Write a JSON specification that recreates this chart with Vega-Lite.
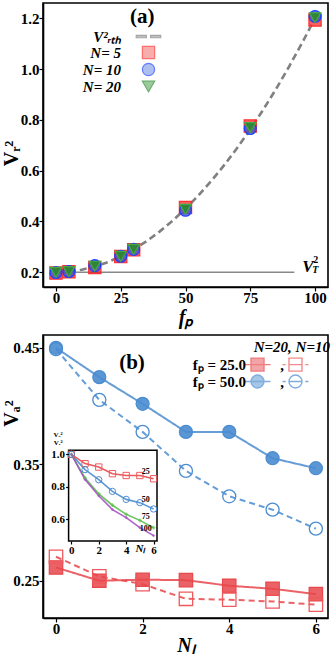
{
  "$schema": "https://vega.github.io/schema/vega-lite/v6.json",
  "padding": {"left": 0, "right": 3, "top": 2, "bottom": 2},
  "spacing": 6,
  "config": {
    "view": {"stroke": "black", "strokeWidth": 1.6},
    "axis": {"domainColor": "black", "domainWidth": 1.6, "tickColor": "black", "tickWidth": 1.2, "tickSize": 4, "grid": false, "labelFont": "Liberation Serif", "labelFontWeight": "bold", "labelFontSize": 15, "labelColor": "black", "labelPadding": 0, "labelOverlap": false, "titleFont": "Liberation Serif", "titleFontStyle": "italic", "titleFontWeight": "bold", "titleFontSize": 20, "titleColor": "black"},
    "text": {"font": "Liberation Serif", "fontWeight": "bold", "color": "black"}
  },
  "resolve": {"scale": {"shape": "independent", "fill": "independent", "stroke": "independent", "color": "independent", "x": "independent", "y": "independent"}, "legend": {"shape": "independent", "fill": "independent", "stroke": "independent"}},
  "vconcat": [
    {
      "width": 285,
      "height": 284,
      "layer": [
        {
          "encoding": {
            "x": {"field": "f", "type": "quantitative", "scale": {"domain": [-5, 105], "nice": false, "zero": false}, "axis": {"values": [0, 25, 50, 75, 100], "title": "fₚ", "labelPadding": -1, "titlePadding": 2}},
            "y": {"field": "v", "type": "quantitative", "scale": {"domain": [0.142, 1.26], "nice": false, "zero": false}, "axis": {"values": [0.2, 0.4, 0.6, 0.8, 1.0, 1.2], "format": ".1f", "title": "Vᵣ²", "titleFontStyle": "normal", "titleX": -22, "titleY": 150, "titleAlign": "center"}}
          },
          "layer": [
            {"data": {"values": [{"f": 0, "v": 0.2}, {"f": 92, "v": 0.2}]}, "mark": {"type": "line", "color": "#888888", "strokeWidth": 1.5}},
            {"data": {"values": [{"f": 5, "v": 0.2025}, {"f": 10, "v": 0.21}, {"f": 15, "v": 0.2225}, {"f": 20, "v": 0.24}, {"f": 25, "v": 0.2625}, {"f": 30, "v": 0.29}, {"f": 35, "v": 0.3225}, {"f": 40, "v": 0.36}, {"f": 45, "v": 0.4025}, {"f": 50, "v": 0.45}, {"f": 55, "v": 0.5025}, {"f": 60, "v": 0.56}, {"f": 65, "v": 0.6225}, {"f": 70, "v": 0.69}, {"f": 75, "v": 0.7625}, {"f": 80, "v": 0.84}, {"f": 85, "v": 0.9225}, {"f": 90, "v": 1.01}, {"f": 95, "v": 1.1025}, {"f": 100, "v": 1.2}]}, "mark": {"type": "line", "color": "#808080", "strokeWidth": 2.6, "strokeDash": [7, 4]}},
            {"data": {"name": "pa", "values": [
              {"f": 0, "N": 5, "v": 0.197}, {"f": 0, "N": 10, "v": 0.199}, {"f": 0, "N": 20, "v": 0.2},
              {"f": 5, "N": 5, "v": 0.202}, {"f": 5, "N": 10, "v": 0.203}, {"f": 5, "N": 20, "v": 0.203},
              {"f": 15, "N": 5, "v": 0.219}, {"f": 15, "N": 10, "v": 0.226}, {"f": 15, "N": 20, "v": 0.224},
              {"f": 25, "N": 5, "v": 0.262}, {"f": 25, "N": 10, "v": 0.263}, {"f": 25, "N": 20, "v": 0.263},
              {"f": 30, "N": 5, "v": 0.289}, {"f": 30, "N": 10, "v": 0.29}, {"f": 30, "N": 20, "v": 0.29},
              {"f": 50, "N": 5, "v": 0.455}, {"f": 50, "N": 10, "v": 0.444}, {"f": 50, "N": 20, "v": 0.448},
              {"f": 75, "N": 5, "v": 0.776}, {"f": 75, "N": 10, "v": 0.766}, {"f": 75, "N": 20, "v": 0.77},
              {"f": 100, "N": 5, "v": 1.193}, {"f": 100, "N": 10, "v": 1.207}, {"f": 100, "N": 20, "v": 1.202}
            ]}, "transform": [{"filter": "datum.N == 5"}], "mark": {"type": "square", "size": 150, "fill": "#f51515", "fillOpacity": 0.68, "stroke": "#ff3030", "strokeWidth": 1.2}},
            {"data": {"name": "pa"}, "transform": [{"filter": "datum.N == 10"}], "mark": {"type": "circle", "size": 140, "fill": "#3558d0", "fillOpacity": 0.75, "stroke": "#1f3fff", "strokeWidth": 1.3}},
            {"data": {"name": "pa"}, "transform": [{"filter": "datum.N == 20"}], "mark": {"type": "point", "shape": "triangle-down", "filled": true, "size": 130, "fill": "#2a8a2a", "fillOpacity": 0.9, "stroke": "#45a845", "strokeWidth": 1.2}},
            {"data": {"values": [{"f": 92, "v": 0.2}]}, "mark": {"type": "text", "text": "V", "align": "left", "baseline": "middle", "dx": 8, "dy": -5, "fontSize": 17, "fontStyle": "italic"}},
            {"data": {"values": [{"f": 92, "v": 0.2}]}, "mark": {"type": "text", "text": "2", "align": "left", "baseline": "middle", "dx": 19, "dy": -12, "fontSize": 10}},
            {"data": {"values": [{"f": 92, "v": 0.2}]}, "mark": {"type": "text", "text": "T", "align": "left", "baseline": "middle", "dx": 18, "dy": -2, "fontSize": 10, "fontStyle": "italic"}},
            {"data": {"values": []}, "mark": {"type": "point", "filled": true},
              "encoding": {
                "shape": {"field": "ka", "type": "nominal", "scale": {"domain": ["v", "n5", "n10", "n20"], "range": ["M-2,-0.2H-0.35V0.2H-2Z M0.35,-0.2H2V0.2H0.35Z", "square", "circle", "triangle-down"]},
                  "legend": {"orient": "none", "legendX": 98, "legendY": 26, "title": null, "labelExpr": "datum.value == 'v' ? 'V²ᵣₜₕ' : datum.value == 'n5' ? 'N= 5' : datum.value == 'n10' ? 'N= 10' : 'N= 20'", "labelAlign": "right", "labelOffset": -35, "labelFont": "Liberation Serif", "labelFontStyle": "italic", "labelFontWeight": "bold", "labelFontSize": 15, "labelColor": "black", "symbolSize": 150, "symbolStrokeWidth": 1.2, "rowPadding": -2, "padding": 0}},
                "fill": {"field": "ka", "type": "nominal", "scale": {"domain": ["v", "n5", "n10", "n20"], "range": ["#808080", "#f25a5a", "#5a7fe0", "#3a963a"]}},
                "stroke": {"field": "ka", "type": "nominal", "scale": {"domain": ["v", "n5", "n10", "n20"], "range": ["#808080", "#ff3333", "#2244ff", "#2a8a2a"]}}
              }}
          ]
        },
        {"data": {"values": [{"panel": "(a)"}]}, "mark": {"type": "text", "align": "center", "baseline": "middle", "fontSize": 21}, "encoding": {"x": {"datum": 33.3, "type": "quantitative"}, "y": {"datum": 1.205, "type": "quantitative"}, "text": {"field": "panel", "type": "nominal"}}}
      ]
    },
    {
      "width": 285,
      "height": 283,
      "resolve": {"scale": {"x": "independent", "y": "independent"}, "axis": {"x": "independent", "y": "independent"}},
      "layer": [
        {
          "layer": [
            {
              "data": {"name": "pb", "values": [
                {"Nl": 0, "V": 0.2614, "fp": 25, "N": 20}, {"Nl": 1, "V": 0.25, "fp": 25, "N": 20}, {"Nl": 2, "V": 0.2509, "fp": 25, "N": 20}, {"Nl": 3, "V": 0.2505, "fp": 25, "N": 20}, {"Nl": 4, "V": 0.2457, "fp": 25, "N": 20}, {"Nl": 5, "V": 0.2431, "fp": 25, "N": 20}, {"Nl": 6, "V": 0.2385, "fp": 25, "N": 20},
                {"Nl": 0, "V": 0.2706, "fp": 25, "N": 10}, {"Nl": 1, "V": 0.2537, "fp": 25, "N": 10}, {"Nl": 2, "V": 0.2471, "fp": 25, "N": 10}, {"Nl": 3, "V": 0.2345, "fp": 25, "N": 10}, {"Nl": 4, "V": 0.2337, "fp": 25, "N": 10}, {"Nl": 5, "V": 0.2322, "fp": 25, "N": 10}, {"Nl": 6, "V": 0.2294, "fp": 25, "N": 10},
                {"Nl": 0, "V": 0.45, "fp": 50, "N": 20}, {"Nl": 1, "V": 0.4248, "fp": 50, "N": 20}, {"Nl": 2, "V": 0.4019, "fp": 50, "N": 20}, {"Nl": 3, "V": 0.3778, "fp": 50, "N": 20}, {"Nl": 4, "V": 0.3778, "fp": 50, "N": 20}, {"Nl": 5, "V": 0.3552, "fp": 50, "N": 20}, {"Nl": 6, "V": 0.3466, "fp": 50, "N": 20},
                {"Nl": 0, "V": 0.4489, "fp": 50, "N": 10}, {"Nl": 1, "V": 0.4053, "fp": 50, "N": 10}, {"Nl": 2, "V": 0.3778, "fp": 50, "N": 10}, {"Nl": 3, "V": 0.3443, "fp": 50, "N": 10}, {"Nl": 4, "V": 0.3225, "fp": 50, "N": 10}, {"Nl": 5, "V": 0.311, "fp": 50, "N": 10}, {"Nl": 6, "V": 0.2947, "fp": 50, "N": 10}
              ]},
              "encoding": {
                "x": {"field": "Nl", "type": "quantitative", "scale": {"domain": [-0.3, 6.28], "nice": false, "zero": false}, "axis": {"values": [0, 2, 4, 6], "title": "Nₗ", "labelPadding": -1, "titlePadding": -1}},
                "y": {"field": "V", "type": "quantitative", "scale": {"domain": [0.218, 0.461], "nice": false, "zero": false}, "axis": {"values": [0.25, 0.35, 0.45], "format": ".2f", "title": "Vₐ²", "titleFontStyle": "normal", "titleX": -22, "titleY": 78, "titleAlign": "center"}}
              },
              "layer": [
                {"mark": {"type": "line", "strokeWidth": 2, "opacity": 0.85},
                  "encoding": {
                    "color": {"field": "fp", "type": "nominal", "scale": {"domain": [25, 50, 75, 100], "range": ["#e8474b", "#4a8cd0", "#5cbf4f", "#a452c0"]}, "legend": null},
                    "strokeDash": {"field": "N", "type": "nominal", "scale": {"domain": [20, 10], "range": [[1, 0], [6, 4]]}, "legend": null}
                  }},
                {"transform": [{"filter": "datum.fp == 25 && datum.N == 20"}], "mark": {"type": "square", "size": 180, "fill": "#e8474b", "fillOpacity": 0.85, "stroke": "#e8474b", "strokeWidth": 1.2}},
                {"transform": [{"filter": "datum.fp == 25 && datum.N == 10"}], "mark": {"type": "square", "size": 180, "fill": "white", "fillOpacity": 0, "stroke": "#ee5a5e", "strokeWidth": 1.3}},
                {"transform": [{"filter": "datum.fp == 50 && datum.N == 20"}], "mark": {"type": "circle", "size": 170, "fill": "#4a8cd0", "fillOpacity": 0.9, "stroke": "#4a8cd0", "strokeWidth": 1.2}},
                {"transform": [{"filter": "datum.fp == 50 && datum.N == 10"}], "mark": {"type": "circle", "size": 170, "fill": "white", "fillOpacity": 0, "stroke": "#4a8cd0", "strokeWidth": 1.3}},
                {"data": {"values": []}, "mark": {"type": "point", "filled": true},
                  "encoding": {
                    "shape": {"field": "kb", "type": "nominal", "scale": {"domain": ["a", "c", "b", "d"], "range": ["M-2,0H2M-1,-1H1V1H-1Z", "M-2,0H2M1,0A1,1,0,1,1,-1,0A1,1,0,1,1,1,0Z", "M-2,0H-1.5M-1,0H1M1.5,0H2M-1,-1H1V1H-1Z M4.9,0", "M-2,0H-1.5M-1,0H1M1.5,0H2M1,0A1,1,0,1,1,-1,0A1,1,0,1,1,1,0Z M4.9,0"]},
                      "legend": {"orient": "none", "legendX": 207, "legendY": 5, "columns": 2, "columnPadding": 5, "title": "N=20,  N=10", "titleAnchor": "end", "titleFont": "Liberation Serif", "titleFontStyle": "italic", "titleFontWeight": "bold", "titleFontSize": 15, "titleColor": "black", "titlePadding": 2, "labelExpr": "datum.value == 'a' ? 'fₚ = 25.0' : datum.value == 'c' ? 'fₚ = 50.0' : ','", "labelAlign": "right", "labelOffset": -19, "labelFont": "Liberation Serif", "labelFontWeight": "bold", "labelFontSize": 15, "labelColor": "black", "symbolSize": 169, "symbolStrokeWidth": 1.4, "rowPadding": -6, "padding": 0}},
                    "fill": {"field": "kb", "type": "nominal", "scale": {"domain": ["a", "c", "b", "d"], "range": ["#e8474b", "#4a8cd0", "transparent", "transparent"]}},
                    "stroke": {"field": "kb", "type": "nominal", "scale": {"domain": ["a", "c", "b", "d"], "range": ["#e8474b", "#4a8cd0", "#ee5a5e", "#4a8cd0"]}}
                  }}
              ]
            },
            {"data": {"values": [{"panel": "(b)"}]}, "mark": {"type": "text", "align": "center", "baseline": "middle", "fontSize": 21}, "encoding": {"x": {"datum": 1.754, "type": "quantitative"}, "y": {"datum": 0.4371, "type": "quantitative"}, "text": {"field": "panel", "type": "nominal"}}}
          ]
        },
        {
          "layer": [
            {"data": {"values": [{"frame": 1}]}, "mark": {"type": "rect", "fill": "white", "stroke": "black", "strokeWidth": 1.5},
              "encoding": {"x": {"datum": -0.2, "type": "quantitative"}, "x2": {"datum": 6.25}, "y": {"datum": 0.467, "type": "quantitative"}, "y2": {"datum": 1.025}}},
            {
              "data": {"values": [
                {"Nl": 0, "r": 1.0, "fp": 25}, {"Nl": 1, "r": 0.943, "fp": 25}, {"Nl": 2, "r": 0.922, "fp": 25}, {"Nl": 3, "r": 0.881, "fp": 25}, {"Nl": 4, "r": 0.87, "fp": 25}, {"Nl": 5, "r": 0.87, "fp": 25}, {"Nl": 6, "r": 0.85, "fp": 25},
                {"Nl": 0, "r": 1.0, "fp": 50}, {"Nl": 1, "r": 0.906, "fp": 50}, {"Nl": 2, "r": 0.844, "fp": 50}, {"Nl": 3, "r": 0.772, "fp": 50}, {"Nl": 4, "r": 0.723, "fp": 50}, {"Nl": 5, "r": 0.703, "fp": 50}, {"Nl": 6, "r": 0.664, "fp": 50},
                {"Nl": 0, "r": 1.0, "fp": 75}, {"Nl": 1, "r": 0.855, "fp": 75}, {"Nl": 2, "r": 0.757, "fp": 75}, {"Nl": 3, "r": 0.687, "fp": 75}, {"Nl": 4, "r": 0.631, "fp": 75}, {"Nl": 5, "r": 0.594, "fp": 75}, {"Nl": 6, "r": 0.549, "fp": 75},
                {"Nl": 0, "r": 1.0, "fp": 100}, {"Nl": 1, "r": 0.845, "fp": 100}, {"Nl": 2, "r": 0.745, "fp": 100}, {"Nl": 3, "r": 0.66, "fp": 100}, {"Nl": 4, "r": 0.611, "fp": 100}, {"Nl": 5, "r": 0.549, "fp": 100}, {"Nl": 6, "r": 0.5, "fp": 100}
              ]},
              "encoding": {
                "x": {"field": "Nl", "type": "quantitative", "scale": {"domain": [-0.2, 6.25], "range": [25.6, 114], "nice": false, "zero": false}, "axis": {"orient": "bottom", "offset": -77, "values": [0, 2, 4, 6], "labelFontSize": 11, "tickSize": 3, "domain": false, "labelPadding": 0, "title": "Nₗ", "titleX": 97, "titleY": 7, "titleBaseline": "middle", "titleFontSize": 11, "zindex": 1}},
                "y": {"field": "r", "type": "quantitative", "scale": {"domain": [0.467, 1.025], "range": [206, 115.3], "nice": false, "zero": false}, "axis": {"orient": "left", "offset": -25.6, "values": [0.6, 0.8, 1.0], "format": ".1f", "labelFontSize": 11, "tickSize": 3, "domain": false, "labelPadding": 1, "title": ["Vₐ²", "Vᵣ²"], "titleAngle": 0, "titleX": -11, "titleY": 102, "titleBaseline": "bottom", "titleAlign": "center", "titleFontSize": 7, "titleFontStyle": "normal", "titleLineHeight": 8, "zindex": 1}}
              },
              "layer": [
                {"mark": {"type": "line", "strokeWidth": 1.6, "opacity": 0.9}, "encoding": {"color": {"field": "fp", "type": "nominal", "legend": null}}},
                {"transform": [{"filter": "datum.fp == 25"}], "mark": {"type": "square", "size": 40, "fill": "white", "fillOpacity": 0, "stroke": "#ee5a5e", "strokeWidth": 1}},
                {"transform": [{"filter": "datum.fp == 50"}], "mark": {"type": "circle", "size": 40, "fill": "white", "fillOpacity": 0, "stroke": "#4a8cd0", "strokeWidth": 1}},
                {"transform": [{"filter": "datum.fp == 75"}], "mark": {"type": "point", "shape": "cross", "filled": true, "size": 14, "fill": "#5cbf4f"}},
                {"transform": [{"filter": "datum.fp == 100"}], "mark": {"type": "point", "shape": "diamond", "filled": true, "size": 12, "fill": "#a452c0"}},
                {"transform": [{"filter": "datum.Nl == 5 && datum.fp < 100"}], "mark": {"type": "text", "dx": 6, "dy": -3, "fontSize": 8, "baseline": "middle"}, "encoding": {"text": {"field": "fp", "type": "nominal"}}},
                {"transform": [{"filter": "datum.Nl == 5 && datum.fp == 100"}], "mark": {"type": "text", "dx": 6, "dy": 1, "fontSize": 8, "baseline": "middle"}, "encoding": {"text": {"field": "fp", "type": "nominal"}}}
              ]
            }
          ]
        }
      ]
    }
  ]
}
